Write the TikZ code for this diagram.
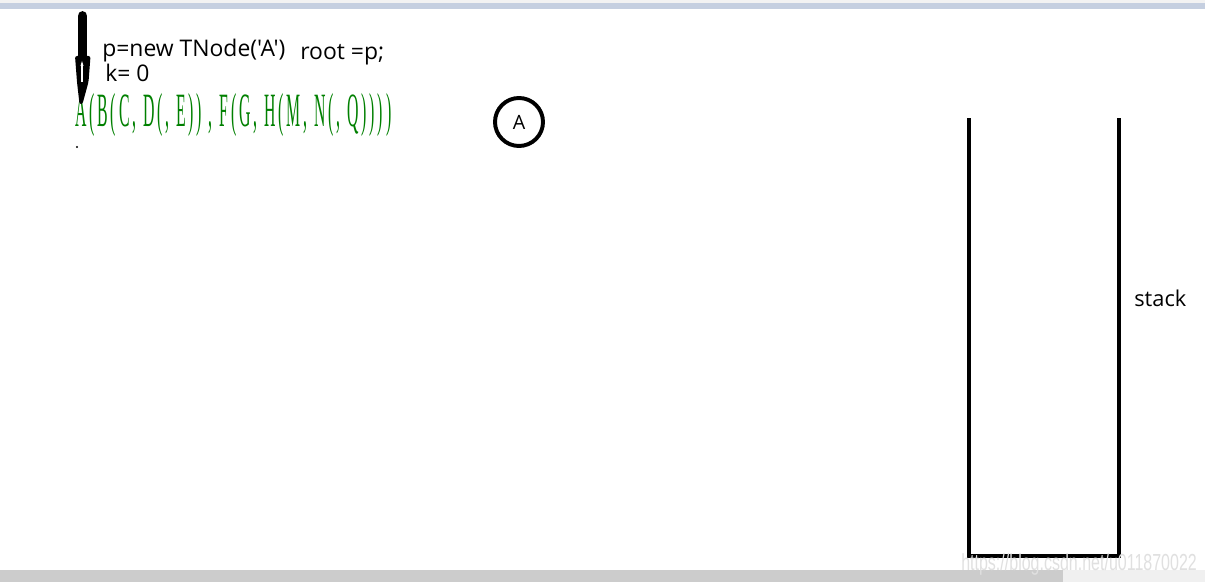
\documentclass[tikz,border=0pt]{standalone}
\usepackage{fontspec}
\setmainfont{Open Sans}
\newfontfamily\codefont{Open Sans}[Ligatures=TeXOff]
\newfontfamily\exprfont[LetterSpace=18]{Liberation Serif}
\newfontfamily\wmfont{Liberation Sans}
\usetikzlibrary{positioning}
\definecolor{topbar}{RGB}{197,207,224}
\definecolor{exprgreen}{RGB}{0,128,0}

\begin{document}
\begin{tikzpicture}[x=0.025cm, y=-0.025cm,
  codetext/.style = {inner sep=0pt, anchor=base west, font=\codefont\fontsize{16.3}{18}\selectfont},
  stackwall/.style = {line width=3.5pt, line cap=rect},
  treenode/.style = {circle, draw, line width=2.8pt, minimum size=1.2cm, inner sep=0pt,
                     font=\fontsize{14}{16}\selectfont}]
\useasboundingbox (0,0) rectangle (1205,582);
\fill[white] (0,0) rectangle (1205,582);
\fill[black!5] (0,0) rectangle (1205,3);
\fill[topbar] (0,3) rectangle (1205,9);
\fill[black!20] (0,570) rectangle (1063,582);
\fill[black!6] (1063,570) rectangle (1205,582);

% code lines
\node[codetext] (newnode) at (102,57) {p=new TNode('A')};
\node[codetext] (rootp) at (300,60) {root =p;};
\node[codetext] (kval) at (105,82) {k= 0};

% the string being read
\node[inner sep=0pt, anchor=base west, text=exprgreen] (expr) at (75,127)
  {\resizebox{7.9cm}{\height}{\exprfont\fontsize{34}{36}\selectfont A(B(C, D(, E)) , F(G, H(M, N(, Q))))}};
\fill (77,147) circle (1.2);

% pointer
\draw[line width=7pt, line cap=round] (82.5,16) -- (82.5,56);
\fill[rounded corners=1.5pt] (75,56) -- (90.5,56) -- (88.5,82) -- (82.5,104) -- (79.5,104) -- (77,82) -- cycle;
\draw[white, line width=1.4pt] (82,66) -- (82,82);
\fill[white] (80.5,66) -- (83.5,66) -- (82,61) -- cycle;

% tree so far
\node[treenode] (A) at (519,122) {A};

% stack
\coordinate (stl) at (969,120);
\coordinate (sbl) at (969,556);
\coordinate (sbr) at (1119,556);
\coordinate (str) at (1119,120);
\draw[stackwall] (stl) -- (sbl) -- (sbr) -- (str);
\node[font=\fontsize{15.5}{17}\selectfont, anchor=base west, inner sep=0pt] (stk) at (1134,307) {stack};

\node[inner sep=0pt, anchor=base west, text=black!12] (wm) at (961,571)
  {\scalebox{0.69}[1]{\wmfont\fontsize{16.5}{18}\selectfont https://blog.csdn.net/u011870022}};
\end{tikzpicture}
\end{document}
